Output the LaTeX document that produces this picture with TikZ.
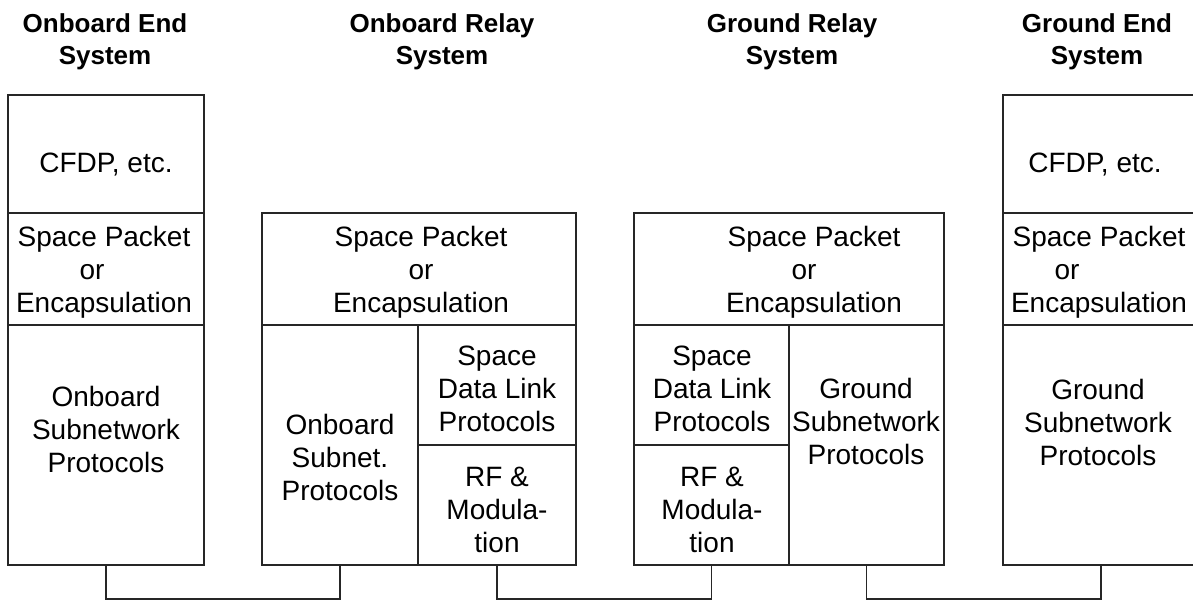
\documentclass[tikz,border=0pt]{standalone}
\usepackage{fontspec}
\setmainfont{Liberation Sans}
\begin{document}
\begin{tikzpicture}[x=1pt,y=-1pt,
  cell/.style={draw=black!85, line width=1.3pt, inner sep=0pt, outer sep=0pt},
  txt/.style={font=\fontsize{28}{33}\selectfont, align=center, inner sep=0pt},
  ttl/.style={font=\fontsize{26}{32}\selectfont\bfseries, align=center, inner sep=0pt},
  link/.style={draw=black!85, line width=1.3pt}]
\clip (0,0) rectangle (1193,601);
\fill[white] (0,0) rectangle (1193,601);
% titles
\node[ttl] (t1) at (105,42) {Onboard End\\System};
\node[ttl] (t2) at (442,42) {Onboard Relay\\System};
\node[ttl] (t3) at (792,42) {Ground Relay\\System};
\node[ttl] (t4) at (1097,42) {Ground End\\System};
% column 1
\node[cell, minimum width=196pt, minimum height=118pt] (c1a) at (106,154) {};
\node[cell, minimum width=196pt, minimum height=112pt] (c1b) at (106,269) {};
\node[cell, minimum width=196pt, minimum height=240pt] (c1c) at (106,445) {};
% column 2
\node[cell, minimum width=314pt, minimum height=112pt] (c2a) at (419,269) {};
\node[cell, minimum width=156pt, minimum height=240pt] (c2b) at (340,445) {};
\node[cell, minimum width=158pt, minimum height=120pt] (c2c) at (497,385) {};
\node[cell, minimum width=158pt, minimum height=120pt] (c2d) at (497,505) {};
% column 3
\node[cell, minimum width=310pt, minimum height=112pt] (c3a) at (789,269) {};
\node[cell, minimum width=155pt, minimum height=120pt] (c3b) at (711.5,385) {};
\node[cell, minimum width=155pt, minimum height=120pt] (c3c) at (711.5,505) {};
\node[cell, minimum width=155pt, minimum height=240pt] (c3d) at (866.5,445) {};
% column 4
\node[cell, minimum width=196pt, minimum height=118pt] (c4a) at (1101,154) {};
\node[cell, minimum width=196pt, minimum height=112pt] (c4b) at (1101,269) {};
\node[cell, minimum width=196pt, minimum height=240pt] (c4c) at (1101,445) {};
% texts
\node[txt] (x1a) at (106,165) {CFDP, etc.};
\node[txt] (x1b) at (104,272) {Space Packet\\\mbox{or\hspace{24pt}}\\Encapsulation};
\node[txt] (x1c) at (106,429) {Onboard\\Subnetwork\\Protocols};
\node[txt] (x2a) at (421,272) {Space Packet\\or\\Encapsulation};
\node[txt] (x2b) at (340,457) {Onboard\\Subnet.\\Protocols};
\node[txt] (x2c) at (497,389) {Space\\Data Link\\Protocols};
\node[txt] (x2d) at (497,510) {RF \&\\Modula-\\tion};
\node[txt] (x3a) at (814,272) {Space Packet\\\mbox{or\hspace{20pt}}\\Encapsulation};
\node[txt] (x3b) at (712,389) {Space\\Data Link\\Protocols};
\node[txt] (x3c) at (712,510) {RF \&\\Modula-\\tion};
\node[txt] (x3d) at (866,421) {Ground\\Subnetwork\\Protocols};
\node[txt] (x4a) at (1095,165) {CFDP, etc.};
\node[txt] (x4b) at (1099,272) {Space Packet\\\mbox{or\hspace{64pt}}\\Encapsulation};
\node[txt] (x4c) at (1098,422) {Ground\\Subnetwork\\Protocols};
% connectors
\coordinate (base) at (0,599);
\draw[link] (c1c.south) -- (c1c.south |- base) -| (c2b.south);
\draw[link] (c2d.south) -- (c2d.south |- base) -| (c3c.south);
\draw[link] (c3d.south) -- (c3d.south |- base) -| (c4c.south);
\end{tikzpicture}
\end{document}
